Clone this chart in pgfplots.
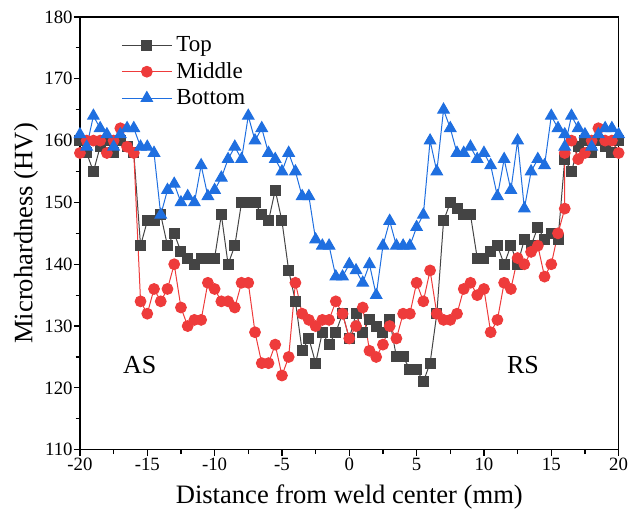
\documentclass[border=0pt]{standalone}
\usepackage{pgfplots}
\pgfplotsset{compat=1.18}
\usepackage{fontspec}
\setmainfont{Liberation Serif}
\definecolor{topc}{HTML}{444444}
\definecolor{midc}{HTML}{EE3B3B}
\definecolor{botc}{HTML}{1F6FE0}

\pgfplotstableread{
x y
-20 160
-19.5 158
-19 155
-18.5 159
-18 160
-17.5 158
-17 160
-16.5 159
-16 158
-15.5 143
-15 147
-14.5 147
-14 148
-13.5 143
-13 145
-12.5 142
-12 141
-11.5 140
-11 141
-10.5 141
-10 141
-9.5 148
-9 140
-8.5 143
-8 150
-7.5 150
-7 150
-6.5 148
-6 147
-5.5 152
-5 147
-4.5 139
-4 134
-3.5 126
-3 128
-2.5 124
-2 129
-1.5 127
-1 129
-0.5 132
0 128
0.5 132
1 129
1.5 131
2 130
2.5 129
3 131
3.5 125
4 125
4.5 123
5 123
5.5 121
6 124
6.5 132
7 147
7.5 150
8 149
8.5 148
9 148
9.5 141
10 141
10.5 142
11 143
11.5 140
12 143
12.5 140
13 144
13.5 143
14 146
14.5 144
15 145
15.5 144
16 157
16.5 155
17 159
17.5 160
18 158
18.5 160
19 159
19.5 158
20 160
}\toptable

\pgfplotstableread{
x y
-20 158
-19.5 160
-19 160
-18.5 160
-18 158
-17.5 160
-17 162
-16.5 159
-16 158
-15.5 134
-15 132
-14.5 136
-14 134
-13.5 136
-13 140
-12.5 133
-12 130
-11.5 131
-11 131
-10.5 137
-10 136
-9.5 134
-9 134
-8.5 133
-8 137
-7.5 137
-7 129
-6.5 124
-6 124
-5.5 127
-5 122
-4.5 125
-4 137
-3.5 132
-3 131
-2.5 130
-2 131
-1.5 131
-1 134
-0.5 132
0 128
0.5 130
1 133
1.5 126
2 125
2.5 127
3 130
3.5 128
4 132
4.5 132
5 137
5.5 134
6 139
6.5 132
7 131
7.5 131
8 132
8.5 136
9 137
9.5 135
10 136
10.5 129
11 131
11.5 137
12 136
12.5 141
13 140
13.5 142
14 143
14.5 138
15 140
15.5 145
16 149
16 158
16.5 160
17 157
17.5 158
18 160
18.5 162
19 160
19.5 160
20 158
}\midtable

\pgfplotstableread{
x y
-20 161
-19.5 159
-19 164
-18.5 162
-18 161
-17.5 159
-17 161
-16.5 162
-16 162
-15.5 159
-15 159
-14.5 158
-14 148
-13.5 152
-13 153
-12.5 150
-12 151
-11.5 150
-11 156
-10.5 151
-10 152
-9.5 154
-9 157
-8.5 159
-8 157
-7.5 164
-7 160
-6.5 162
-6 158
-5.5 157
-5 155
-4.5 158
-4 155
-3.5 151
-3 151
-2.5 144
-2 143
-1.5 143
-1 138
-0.5 138
0 140
0.5 139
1 137
1.5 140
2 135
2.5 143
3 147
3.5 143
4 143
4.5 143
5 146
5.5 148
6 160
6.5 155
7 165
7.5 162
8 158
8.5 158
9 159
9.5 157
10 158
10.5 156
11 151
11.5 157
12 152
12.5 160
13 149
13.5 155
14 157
14.5 156
15 164
15.5 162
16 161
16 159
16.5 164
17 162
17.5 161
18 159
18.5 161
19 162
19.5 162
20 161
}\bottable

\begin{document}
\begin{tikzpicture}
\begin{axis}[
  name=main,
  width=269.5pt, height=216.5pt, scale only axis,
  xmin=-20, xmax=20, ymin=110, ymax=180,
  xtick={-20,-15,...,20},
  xticklabels={-20,-15,-10,-5,0,5,10,15,20},
  ytick={110,120,...,180},
  minor x tick num=1, minor y tick num=1,
  tick align=outside, xtick pos=left, ytick pos=left,
  major tick length=3pt, minor tick length=2.2pt,
  tick style={black, line width=0.6pt},
  axis line style={line width=0.75pt},
  ticklabel style={font=\fontsize{9.4}{11}\selectfont},
  yticklabel style={inner sep=0.5pt},
  xticklabel style={inner sep=0pt, yshift=-1pt},
  /pgf/number format/assume math mode=true,
  xlabel={Distance from weld center (mm)},
  ylabel={Microhardness (HV)},
  label style={font=\fontsize{13.3}{15}\selectfont},
  xlabel style={at={(axis description cs:0.5,-0.109)}, anchor=center},
  ylabel style={at={(axis description cs:-0.1,0.5)}, anchor=center, inner sep=0pt},
  legend style={at={(axis description cs:0.065,0.975)}, anchor=north west,
    draw=none, fill=none, font=\fontsize{11.5}{13}\selectfont, row sep=0pt},
  legend cell align=left,
  legend image code/.code={\draw[mark repeat=2,mark phase=2]
    plot coordinates {(0pt,0pt) (12.5pt,0pt) (25pt,0pt)};},
]
\addplot[color=topc, line width=0.5pt, mark=square*, mark size=2.5pt,
  mark options={fill=topc, draw=topc}] table[x=x,y=y] {\toptable};
\addlegendentry{Top}
\addplot[color=midc, line width=0.5pt, mark=*, mark size=2.7pt,
  mark options={fill=midc, draw=midc}] table[x=x,y=y] {\midtable};
\addlegendentry{Middle}
\addplot[color=botc, line width=0.5pt, mark=triangle*, mark size=3.3pt,
  mark options={fill=botc, draw=botc}] table[x=x,y=y] {\bottable};
\addlegendentry{Bottom}
\node[font=\fontsize{13}{15}\selectfont] at (axis cs:-15.56,123.7) {AS};
\node[font=\fontsize{13}{15}\selectfont] at (axis cs:12.9,123.7) {RS};
\end{axis}
\path ([shift={(-40pt,-35pt)}]main.south west) rectangle ([shift={(4.5pt,8.5pt)}]main.north east);
\end{tikzpicture}
\end{document}
